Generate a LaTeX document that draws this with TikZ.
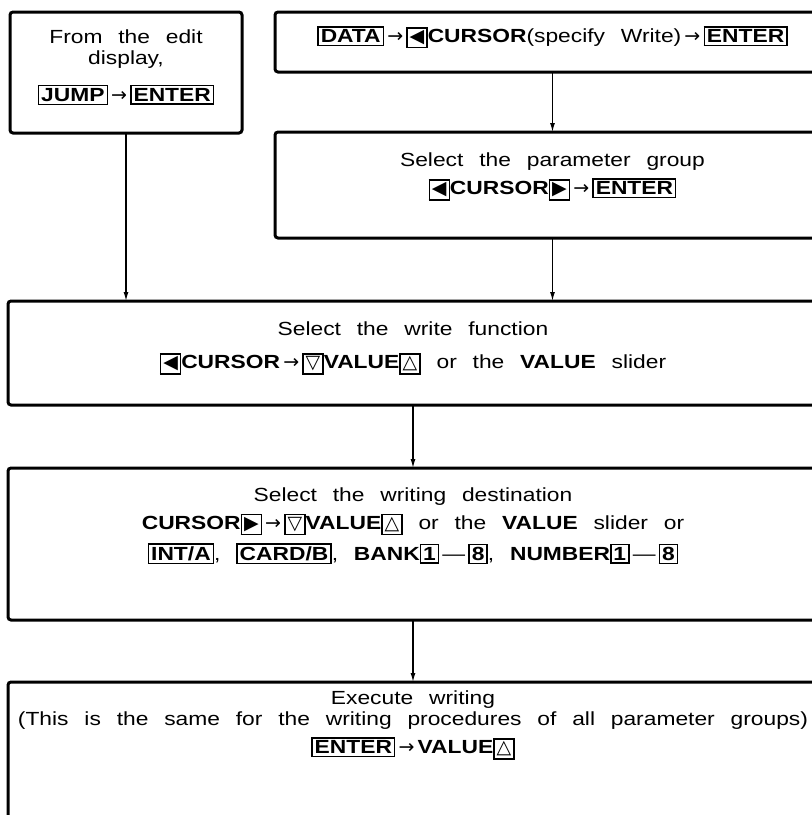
\documentclass[tikz,border=0pt]{standalone}
\usepackage{fontspec}
\setmainfont{Liberation Sans}[WordSpace=2.5, FakeStretch=1.2]
\newfontfamily\symfont{DejaVu Sans}
\usetikzlibrary{positioning, arrows.meta}

\newcommand{\sym}[1]{{\symfont #1}}
\newcommand{\keycap}[1]{{\setlength{\fboxsep}{2pt}\setlength{\fboxrule}{1.4pt}\fbox{\textbf{#1}}}}
\newcommand{\goes}{\,\sym{→}\,}

\begin{document}
\begin{tikzpicture}[
    x=1pt, y=-1pt,
    font=\fontsize{19}{21}\selectfont,
    stepbox/.style={draw, line width=3pt, rounded corners=3pt, align=center,
        anchor=north west, inner sep=4pt, outer sep=0pt},
    lift/.style={text depth=#1},
    flow/.style={-{Latex[length=9pt, width=5pt]}, line width=1.3pt}
]
\useasboundingbox (0,0) rectangle (812,815);
\clip (0,0) rectangle (812,815);

\node[stepbox, minimum width=232pt, minimum height=121pt, lift=14pt] (edit) at (10,12)
    {From the edit\\ display,\\[16pt] \keycap{JUMP}\goes\keycap{ENTER}};

\node[stepbox, minimum width=555pt, minimum height=60pt, lift=15pt] (data) at (275,12)
    {\keycap{DATA}\goes\keycap{\sym{◀}}\textbf{CURSOR}(specify Write)\goes\keycap{ENTER}};

\node[stepbox, minimum width=555pt, minimum height=106pt, lift=22pt,
      below=60pt of data.south west, anchor=north west] (group)
    {Select the parameter group\\[7pt]
     \keycap{\sym{◀}}\textbf{CURSOR}\keycap{\sym{▶}}\goes\keycap{ENTER}};

\node[stepbox, minimum width=810pt, minimum height=104pt, lift=15pt] (func) at (8,301)
    {Select the write function\\[12pt]
     \keycap{\sym{◀}}\textbf{CURSOR}\goes\keycap{\sym{▽}}\textbf{VALUE}\keycap{\sym{△}} or the \textbf{VALUE} slider};

\node[stepbox, minimum width=810pt, minimum height=152pt, lift=40pt,
      below=63pt of func.south west, anchor=north west] (dest)
    {Select the writing destination\\[7pt]
     \textbf{CURSOR}\keycap{\sym{▶}}\goes\keycap{\sym{▽}}\textbf{VALUE}\keycap{\sym{△}} or the \textbf{VALUE} slider or\\[7pt]
     \keycap{INT/A}, \keycap{CARD/B}, \textbf{BANK}\keycap{1}\,—\,\keycap{8}, \textbf{NUMBER}\keycap{1}\,—\,\keycap{8}};

\node[stepbox, minimum width=810pt, inner ysep=9pt,
      below=62pt of dest.south west, anchor=north west] (exec)
    {Execute writing\\
     (This is the same for the writing procedures of all parameter groups)\\[7pt]
     \keycap{ENTER}\goes\textbf{VALUE}\keycap{\sym{△}}\\[60pt]\mbox{}};

\draw[flow] (data) -- (group);
\draw[flow] (edit) -- (edit |- func.north);
\draw[flow] (group) -- (group |- func.north);
\draw[flow] (func) -- (dest);
\draw[flow] (dest) -- (exec);

\end{tikzpicture}
\end{document}
